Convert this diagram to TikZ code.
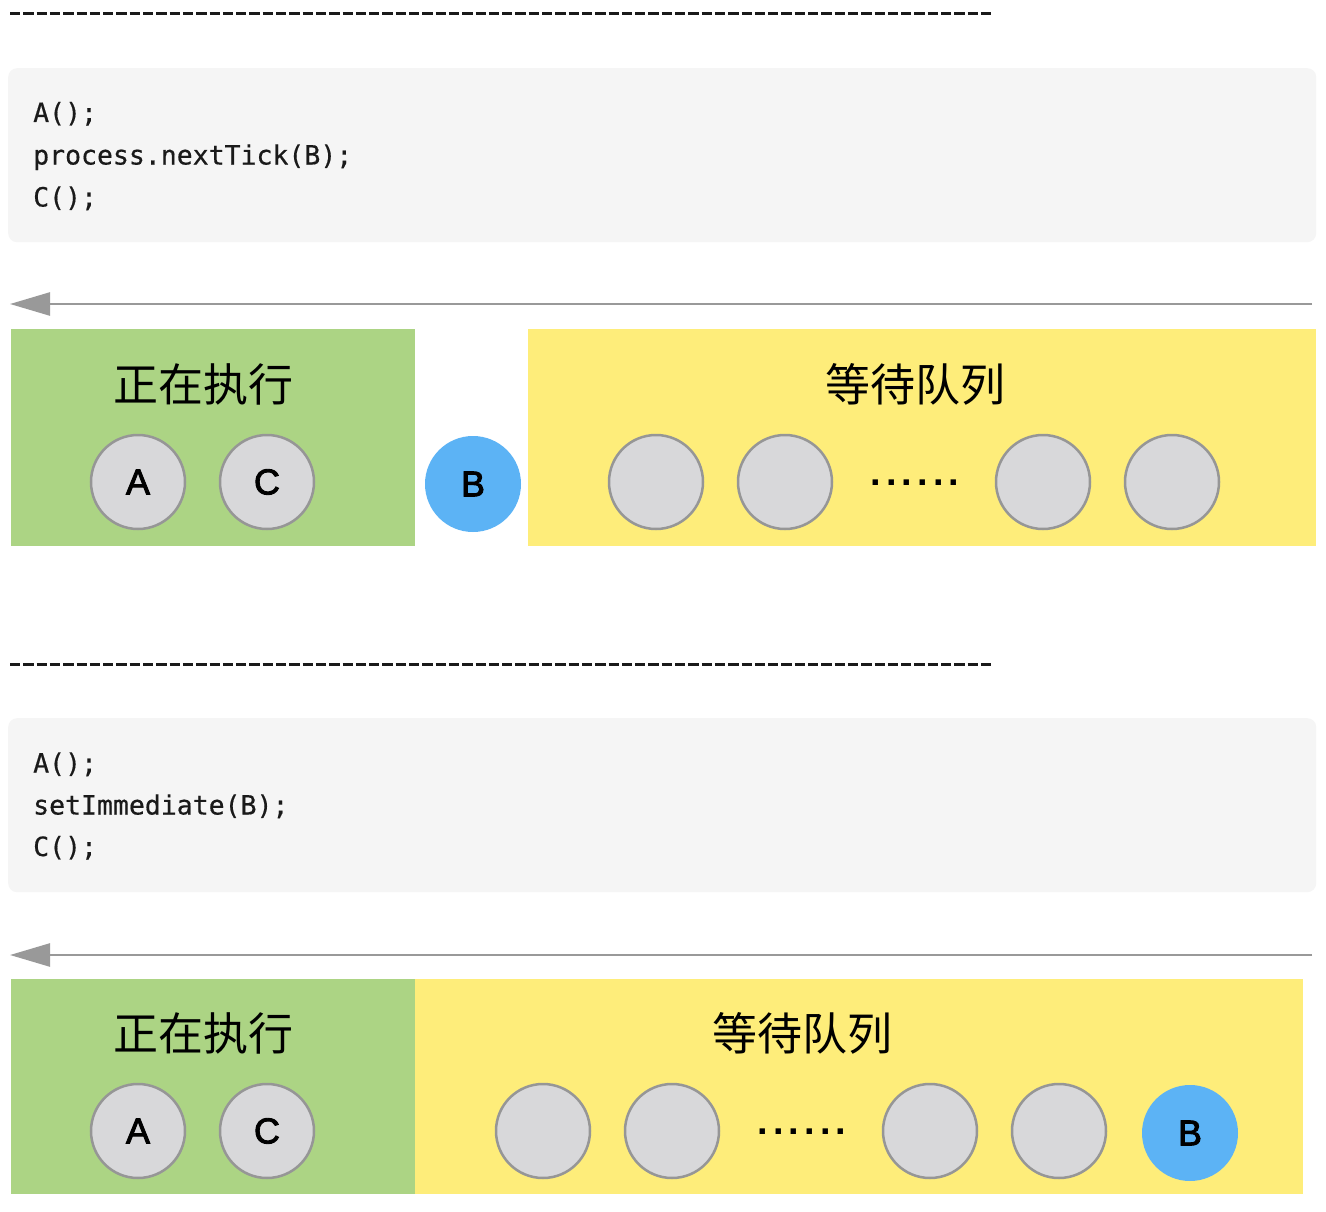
\documentclass[tikz,border=0pt]{standalone}
\usepackage{fontspec}
\setmainfont{Liberation Sans}
\newfontfamily\codefont{DejaVu Sans Mono}[FakeBold=0.5]
\newfontfamily\cjk{Noto Sans CJK SC}
\newfontfamily\ballfont{Liberation Sans}[FakeBold=2.5]
\usetikzlibrary{arrows.meta}
\definecolor{codebg}{HTML}{F5F5F5}
\definecolor{runcol}{HTML}{ACD484}
\definecolor{waitcol}{HTML}{FEED7A}
\definecolor{ballfill}{HTML}{D8D8DA}
\definecolor{ballline}{HTML}{969696}
\definecolor{bluecol}{HTML}{5CB3F5}
\definecolor{arrowcol}{HTML}{999999}
\definecolor{inkcol}{HTML}{1A1A1A}
\tikzset{
  sepline/.style={line width=3pt, draw=inkcol, dash pattern=on 10.3pt off 3pt},
  codebox/.style={fill=codebg, rounded corners=9pt, draw=none},
  codeline/.style={anchor=base west, inner sep=0pt, font=\fontsize{26.5}{30}\selectfont\codefont, text=inkcol},
  flow/.style={draw=arrowcol, line width=2.5pt, -{Triangle[length=40pt,width=23pt]}},
  runbox/.style={fill=runcol, draw=none},
  waitbox/.style={fill=waitcol, draw=none},
  title/.style={font=\fontsize{45}{50}\selectfont\cjk, text=black, inner sep=0pt},
  ball/.style={circle, minimum size=94pt, inner sep=0pt, fill=ballfill, draw=ballline, line width=2.5pt, font=\ballfont\fontsize{36}{40}\selectfont, text=black},
  blueball/.style={circle, minimum size=96pt, inner sep=0pt, fill=bluecol, draw=none, font=\ballfont\fontsize{36}{40}\selectfont, text=black},
  dots/.style={anchor=base, inner sep=0pt, font=\fontsize{38}{44}\selectfont\bfseries, text=black}
}
\newcommand{\dotrow}{\makebox[15.6pt]{.}\makebox[15.6pt]{.}\makebox[15.6pt]{.}\makebox[15.6pt]{.}\makebox[15.6pt]{.}\makebox[15.6pt]{.}}
\begin{document}
\begin{tikzpicture}[x=1pt,y=-1pt]
\useasboundingbox (0,0) rectangle (1326,1212);
\fill[white] (0,0) rectangle (1326,1212);

% ---------- panel 1 ----------
\coordinate (sepA1) at (10,14);
\coordinate (sepA2) at (992,14);
\draw[sepline] (sepA1) -- (sepA2);

\node[codebox, minimum width=1308pt, minimum height=174pt, anchor=north west] (codeA) at (8,68) {};
\node[codeline] (codeA1) at (33,122) {A();};
\node[codeline] (codeA2) at (33,164.5) {process.nextTick(B);};
\node[codeline] (codeA3) at (33,206.5) {C();};

\coordinate (flowA1) at (1312,304);
\coordinate (flowA2) at (10,304);
\draw[flow] (flowA1) -- (flowA2);

\node[runbox, minimum width=404pt, minimum height=217pt, anchor=north west] (runA) at (11,329) {};
\node[waitbox, minimum width=788pt, minimum height=217pt, anchor=north west] (waitA) at (528,329) {};
\node[title] (runtitleA) at (203,384) {正在执行};
\node[title] (waittitleA) at (915,384) {等待队列};
\node[ball] (aA) at (138,482) {A};
\node[ball] (cA) at (267,482) {C};
\node[blueball] (bA) at (473,484) {B};
\node[ball] (qA1) at (656,482) {};
\node[ball] (qA2) at (785,482) {};
\node[dots] (dotsA) at (915,485) {\dotrow};
\node[ball] (qA3) at (1043,482) {};
\node[ball] (qA4) at (1172,482) {};

% ---------- panel 2 ----------
\coordinate (sepB1) at (10,664);
\coordinate (sepB2) at (992,664);
\draw[sepline] (sepB1) -- (sepB2);

\node[codebox, minimum width=1308pt, minimum height=174pt, anchor=north west] (codeB) at (8,718) {};
\node[codeline] (codeB1) at (33,772.5) {A();};
\node[codeline] (codeB2) at (33,814.5) {setImmediate(B);};
\node[codeline] (codeB3) at (33,856) {C();};

\coordinate (flowB1) at (1312,955);
\coordinate (flowB2) at (10,955);
\draw[flow] (flowB1) -- (flowB2);

\node[runbox, minimum width=404pt, minimum height=215pt, anchor=north west] (runB) at (11,979) {};
\node[waitbox, minimum width=888pt, minimum height=215pt, anchor=north west] (waitB) at (415,979) {};
\node[title] (runtitleB) at (203,1033) {正在执行};
\node[title] (waittitleB) at (802,1033) {等待队列};
\node[ball] (aB) at (138,1131) {A};
\node[ball] (cB) at (267,1131) {C};
\node[ball] (qB1) at (543,1131) {};
\node[ball] (qB2) at (672,1131) {};
\node[dots] (dotsB) at (802,1134) {\dotrow};
\node[ball] (qB3) at (930,1131) {};
\node[ball] (qB4) at (1059,1131) {};
\node[blueball] (bB) at (1190,1133) {B};
\end{tikzpicture}
\end{document}
